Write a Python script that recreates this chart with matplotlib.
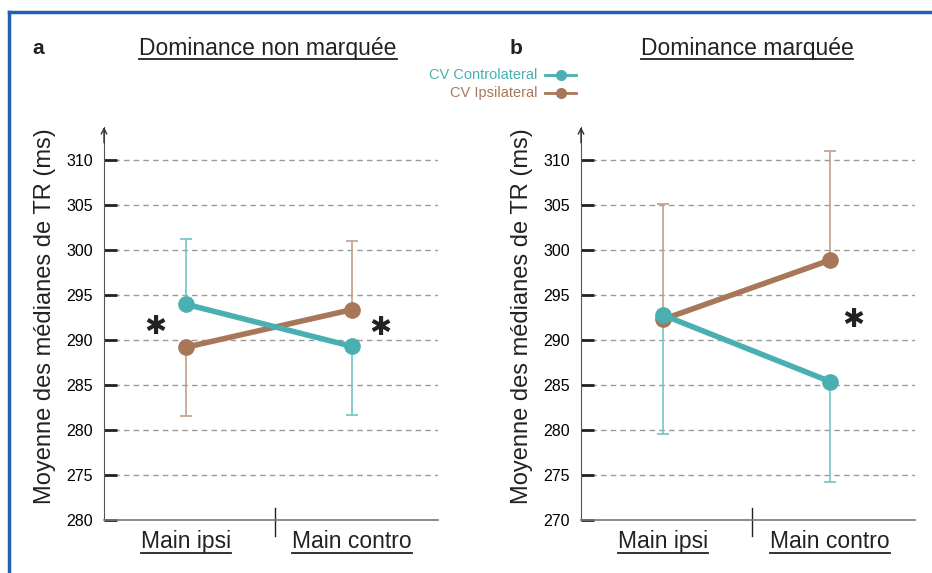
import matplotlib
matplotlib.use('Agg')
import matplotlib.pyplot as plt
from matplotlib.lines import Line2D

plt.rcParams['font.family'] = ['Liberation Sans', 'DejaVu Sans']

# data
categories = ['Main ipsi', 'Main contro']
series_names = ['CV Controlateral', 'CV Ipsilateral']

# panel a : dominance non marquee
a_contro = [294.0, 289.3]
a_ipsi = [289.2, 293.4]
a_contro_err = [[0, 7.6], [7.2, 0]]   # [lower], [upper] per point
a_ipsi_err = [[7.6, 0], [0, 7.6]]

# panel b : dominance marquee
b_contro = [292.8, 285.4]
b_ipsi = [292.3, 298.9]
b_contro_err = [[13.2, 11.2], [0, 0]]
b_ipsi_err = [[0, 0], [12.8, 12.1]]

yticks = [270, 275, 280, 285, 290, 295, 300, 305, 310]
a_yticklabels = ['280', '275', '280', '285', '290', '295', '300', '305', '310']
b_yticklabels = ['270', '275', '280', '285', '290', '295', '300', '305', '310']

teal = '#4aafb1'
brown = '#a8775a'
teal_light = '#72c4c4'
brown_light = '#c49e89'
W, H = 932, 573

fig = plt.figure(figsize=(W / 100, H / 100), dpi=100)

def px(x0, y0, x1, y1):
    return [x0 / W, 1 - y1 / H, (x1 - x0) / W, (y1 - y0) / H]

def panel(rect, contro, ipsi, contro_err, ipsi_err, ticklabels, xmax, divider, stars, title, letter, tx, lx):
    ax = fig.add_axes(px(*rect))
    ax.set_ylim(270, 313.7)
    ax.set_xlim(-0.49, xmax)
    x = [0, 1]
    for t in yticks[1:]:
        ax.axhline(t, color='#9a9a9a', lw=1, ls=(0, (4, 3)), zorder=0)
    ax.errorbar(x, contro, yerr=[contro_err[0], contro_err[1]], fmt='none',
                ecolor=teal_light, elinewidth=1.2, capsize=4, capthick=1.2, zorder=2)
    ax.errorbar(x, ipsi, yerr=[ipsi_err[0], ipsi_err[1]], fmt='none',
                ecolor=brown_light, elinewidth=1.2, capsize=4, capthick=1.2, zorder=2)
    ax.plot(x, ipsi, color=brown, lw=4, marker='o', ms=11, zorder=3)
    ax.plot(x, contro, color=teal, lw=4, marker='o', ms=11, zorder=4)
    for sx, sy in stars:
        ax.text(sx, sy, '✱', family='DejaVu Sans', fontsize=19, ha='center', va='center', color='#222')
    ax.set_yticks(yticks)
    ax.set_yticklabels(ticklabels)
    ax.tick_params(axis='y', direction='in', length=9, width=2, color='#222', labelsize=11.5, pad=8)
    ax.set_xticks([])
    for s in ['top', 'right']:
        ax.spines[s].set_visible(False)
    ax.spines['left'].set_color('#555')
    ax.spines['bottom'].set_color('#777')
    ax.spines['bottom'].set_linewidth(1.2)
    ax.annotate('', xy=(0, 1.0), xytext=(0, 0.96), xycoords='axes fraction',
                arrowprops=dict(arrowstyle='->', color='#333', lw=1, shrinkA=0, shrinkB=0))
    ax.plot([divider, divider], [-0.04, 0.03], transform=ax.get_xaxis_transform(),
            color='#222', lw=1, clip_on=False)
    ax.set_ylabel('Moyenne des médianes de TR (ms)', fontsize=17, color='#222')
    ax.yaxis.set_label_coords(-0.144, 0.52)
    labels = []
    for xi, c in zip(x, categories):
        labels.append(ax.text(xi, 267.6, c, fontsize=16.5, ha='center', va='center', color='#222'))
    labels.append(fig.text(tx / W, 1 - 48 / H, title, fontsize=16.5, ha='center', va='center', color='#222'))
    fig.text(lx / W, 1 - 48 / H, letter, fontsize=15, weight='bold', ha='left', va='center', color='#222')
    return ax, labels

ax1, lab1 = panel((104, 127, 438, 520), a_contro, a_ipsi, a_contro_err, a_ipsi_err,
                  a_yticklabels, 1.515, 0.539, [(-0.18, 291.5), (1.17, 291.4)],
                  'Dominance non marquée', 'a', 268, 32)
ax2, lab2 = panel((581, 127, 915, 520), b_contro, b_ipsi, b_contro_err, b_ipsi_err,
                  b_yticklabels, 1.509, 0.533, [(1.14, 292.2)],
                  'Dominance marquée', 'b', 747, 510)

# legend drawn by hand
for i, (name, col) in enumerate(zip(series_names, [teal, brown])):
    y = 1 - (75 + 18 * i) / H
    fig.text(537 / W, y, name, fontsize=10.5, color=col, ha='right', va='center')
    fig.add_artist(Line2D([545 / W, 576 / W], [y, y], color=col, lw=2))
    fig.add_artist(Line2D([561 / W], [y], color=col, marker='o', ms=7))

# underline the titles and category labels
fig.canvas.draw()
r = fig.canvas.get_renderer()
for t in lab1 + lab2:
    bb = t.get_window_extent(r).transformed(fig.transFigure.inverted())
    yb = bb.y0 + 0.001
    fig.add_artist(Line2D([bb.x0, bb.x1], [yb, yb], color='#222', lw=1.3))

# blue frame
fig.add_artist(Line2D([9 / W, 1], [1 - 12 / H, 1 - 12 / H], color='#1f60b0', lw=2.5))
fig.add_artist(Line2D([9 / W, 9 / W], [0, 1 - 12 / H], color='#1f60b0', lw=2.5))

fig.savefig('out.png', dpi=100)
